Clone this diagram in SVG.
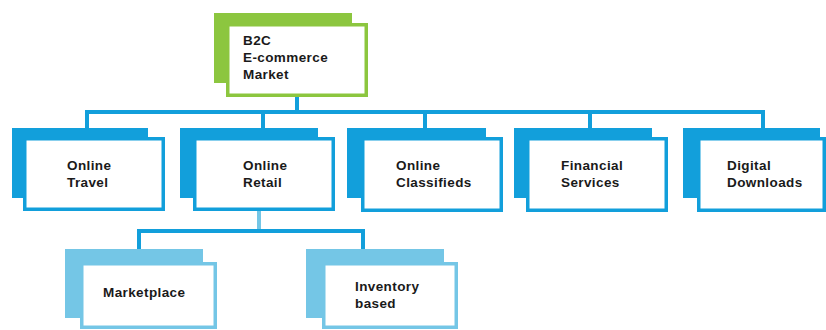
<svg xmlns="http://www.w3.org/2000/svg" width="826" height="330" viewBox="0 0 826 330">
  <style>
    .bg { fill: #ffffff; }
    .back-green { fill: #8cc63f; }
    .back-blue { fill: #129fdb; }
    .back-light { fill: #74c6e6; }
    .front { fill: #ffffff; stroke-width: 3.5; }
    .front-green { stroke: #8cc63f; }
    .front-blue { stroke: #129fdb; }
    .front-light { stroke: #74c6e6; }
    .link { fill: none; stroke: #129fdb; stroke-width: 4; stroke-linecap: square; stroke-linejoin: miter; }
    .link-light { fill: none; stroke: #74c6e6; stroke-width: 4; }
    .label { font-family: "Liberation Sans", Arial, sans-serif; font-weight: bold; font-size: 13.5px; letter-spacing: 0.4px; fill: #1a1a1a; }
  </style>

  <rect class="bg" x="0" y="0" width="826" height="330"/>

  <!-- connectors -->
  <g id="connectors">
    <line class="link" x1="297" y1="97" x2="297" y2="112"/>
    <polyline class="link" points="87,128 87,112 763,112 763,128"/>
    <line class="link" x1="263" y1="112" x2="263" y2="128"/>
    <line class="link" x1="425" y1="112" x2="425" y2="128"/>
    <line class="link" x1="590" y1="112" x2="590" y2="128"/>
    <line class="link-light" x1="259" y1="211" x2="259" y2="231"/>
    <polyline class="link" points="139,249 139,231 363,231 363,249"/>
  </g>

  <!-- root -->
  <g id="node-b2c">
    <rect class="back-green" x="214" y="13" width="138" height="70"/>
    <rect class="front front-green" x="227.75" y="24.75" width="138.5" height="70.5"/>
    <text class="label" x="243" y="45">B2C</text>
    <text class="label" x="243" y="62">E-commerce</text>
    <text class="label" x="243" y="79">Market</text>
  </g>

  <g id="node-travel">
    <rect class="back-blue" x="12" y="128" width="136" height="70"/>
    <rect class="front front-blue" x="24.75" y="138.75" width="138.5" height="70.5"/>
    <text class="label" x="67" y="170">Online</text>
    <text class="label" x="67" y="187">Travel</text>
  </g>

  <g id="node-retail">
    <rect class="back-blue" x="180" y="128" width="138" height="70"/>
    <rect class="front front-blue" x="194.75" y="138.75" width="138.5" height="70.5"/>
    <text class="label" x="243" y="170">Online</text>
    <text class="label" x="243" y="187">Retail</text>
  </g>

  <g id="node-classifieds">
    <rect class="back-blue" x="347" y="128" width="139" height="70"/>
    <rect class="front front-blue" x="362.75" y="138.75" width="138.5" height="71.5"/>
    <text class="label" x="396" y="170">Online</text>
    <text class="label" x="396" y="187">Classifieds</text>
  </g>

  <g id="node-financial">
    <rect class="back-blue" x="514" y="128" width="138" height="70"/>
    <rect class="front front-blue" x="527.75" y="138.75" width="138.5" height="71.5"/>
    <text class="label" x="561" y="170">Financial</text>
    <text class="label" x="561" y="187">Services</text>
  </g>

  <g id="node-digital">
    <rect class="back-blue" x="683" y="128" width="137" height="70"/>
    <rect class="front front-blue" x="698.75" y="138.75" width="125.5" height="71.5"/>
    <text class="label" x="727" y="170">Digital</text>
    <text class="label" x="727" y="187">Downloads</text>
  </g>

  <g id="node-marketplace">
    <rect class="back-light" x="65" y="249" width="138" height="69"/>
    <rect class="front front-light" x="81.75" y="263.75" width="133.5" height="63.5"/>
    <text class="label" x="103" y="297">Marketplace</text>
  </g>

  <g id="node-inventory">
    <rect class="back-light" x="306" y="249" width="138" height="69"/>
    <rect class="front front-light" x="323.75" y="263.75" width="132.5" height="63.5"/>
    <text class="label" x="355" y="291">Inventory</text>
    <text class="label" x="355" y="308">based</text>
  </g>
</svg>
